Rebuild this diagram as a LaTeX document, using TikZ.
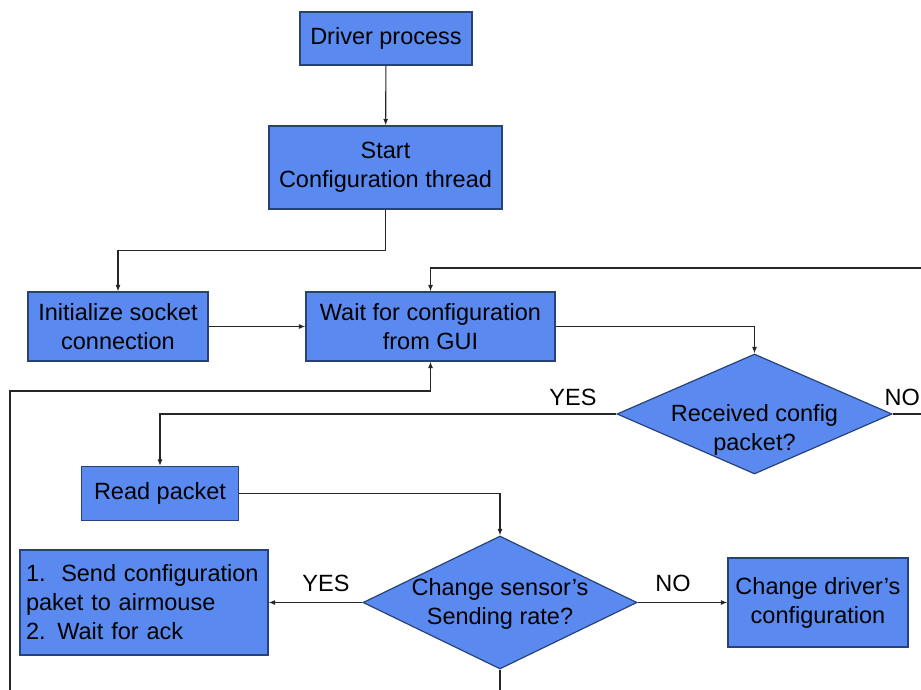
\documentclass[tikz,border=0pt]{standalone}
\usepackage{fontspec}
\setmainfont{Liberation Sans}
\usetikzlibrary{shapes.geometric}
\usetikzlibrary{arrows.meta}
\definecolor{boxfill}{RGB}{90,138,240}
\definecolor{boxline}{RGB}{40,66,120}

\begin{document}
\begin{tikzpicture}[x=1pt, y=-1pt,
            font=\fontsize{23.5}{29}\selectfont,
            process/.style={draw=boxline, fill=boxfill, line width=1.2pt, rectangle, inner sep=0pt, align=center},
            decision/.style={draw=boxline, fill=boxfill, line width=1.2pt, diamond, inner sep=0pt},
            dtext/.style={align=center, inner sep=0pt},
            flow/.style={draw, line width=1.1pt, black!85},
            arr/.style={flow, -{Latex[length=6.5pt,width=5pt]}},
            answer/.style={inner sep=0pt}]
    \useasboundingbox (0,0) rectangle (921,690);

    % boxes
    \node[process, minimum width=172, minimum height=53] (driver) at (386,38.5) {Driver process};
    \node[process, minimum width=233, minimum height=83] (start) at (385.5,167.5) {Start\\Configuration thread};
    \node[process, minimum width=180, minimum height=69] (init) at (118,326.5) {Initialize socket\\connection};
    \node[process, minimum width=249, minimum height=69] (wait) at (430.5,326.5) {Wait for configuration\\from GUI};
    \node[process, minimum width=157, minimum height=54] (read) at (160,493.5) {Read packet};
    \node[process, minimum width=248, minimum height=105, text width=236, inner xsep=6pt, align=left] (send) at (144,602.5)
        {1.\ \ Send configuration\\paket to airmouse\\2. Wait for ack};
    \node[process, minimum width=180, minimum height=89] (drvcfg) at (818,602.5) {Change driver's\\configuration};

    % decisions
    \node[decision, minimum width=275, minimum height=120] (recv) at (754.5,414) {};
    \node[dtext] (recvtxt) at (754.5,430) {Received config\\packet?};
    \node[decision, minimum width=274, minimum height=133] (rate) at (500,602.5) {};
    \node[dtext] (ratetxt) at (500,604) {Change sensor's\\Sending rate?};

    % loose ends
    \coordinate (loopin) at (921,268);
    \coordinate (noout) at (921,414);
    \coordinate (rateout) at (500,690);
    \coordinate (backin) at (10,690);

    % connectors
    \draw[arr] (driver) -- (start);
    \draw[arr] (start.south) -- ++(0,41) -| (init.north);
    \draw[arr] (init) -- (wait);
    \draw[arr] (loopin) -| (wait.north);
    \draw[arr] (wait.east) -| (recv.north);
    \draw[arr] (recv.west) -| (read.north);
    \draw[flow] (recv.east) -- (noout);
    \draw[arr] (read.east) -| (rate.north);
    \draw[arr] (rate.west) -- (send.east);
    \draw[arr] (rate.east) -- (drvcfg.west);
    \draw[flow] (rate.south) -- (rateout);
    \draw[arr] (backin) -- ++(0,-299) -| (wait.south);

    % answers
    \node[answer] (yes1) at (573,397) {YES};
    \node[answer, anchor=east] (no1) at (920,397) {NO};
    \node[answer] (yes2) at (326,583) {YES};
    \node[answer] (no2) at (673,583) {NO};
\end{tikzpicture}
\end{document}
